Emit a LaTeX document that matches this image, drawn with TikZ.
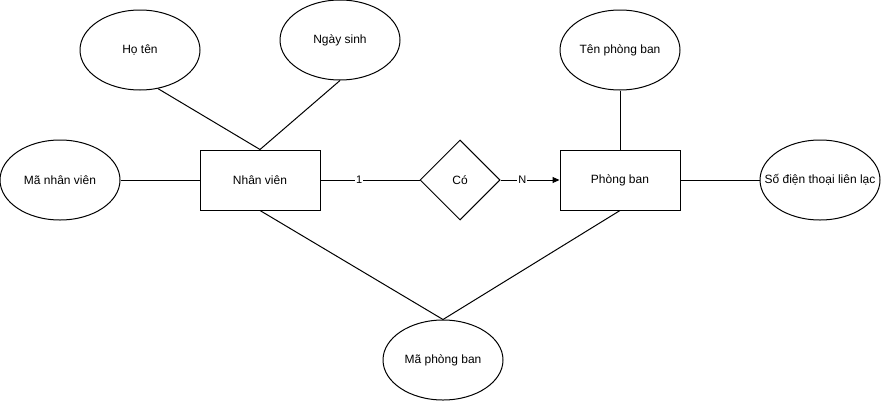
\documentclass[tikz,border=0pt]{standalone}
\usepackage{fontspec}
\setmainfont{Liberation Sans}
\usetikzlibrary{shapes.geometric,arrows.meta}
\begin{document}
\begin{tikzpicture}[x=1pt,y=-1pt,
  every node/.style={font=\fontsize{12}{14}\selectfont, inner sep=0pt},
  attr/.style={draw, ellipse, line width=1pt, minimum width=120pt, minimum height=80pt, fill=white},
  entity/.style={draw, rectangle, line width=1pt, minimum width=120pt, minimum height=60pt, fill=white},
  rel/.style={draw, diamond, aspect=1, line width=1pt, minimum width=80pt, minimum height=80pt, fill=white},
  conn/.style={line width=1pt},
  card/.style={fill=white, font=\fontsize{11}{13}\selectfont, inner sep=1pt}]
\useasboundingbox (0,0) rectangle (882,402);
\node[attr] (hoten) at (140,50) {Họ tên};
\node[attr] (ngaysinh) at (340,40) {Ngày sinh};
\node[attr] (manv) at (60,180) {Mã nhân viên};
\node[entity] (nhanvien) at (260,180) {Nhân viên};
\node[rel] (co) at (460,180) {Có};
\node[entity] (phongban) at (620,180) {Phòng ban};
\node[attr] (tenpb) at (620,50) {Tên phòng ban};
\node[attr] (sdt) at (820,180) {};
\node (sdttext) at (sdt.center) {Số điện thoại liên lạc};
\node[attr] (mapb) at (443,360) {Mã phòng ban};

\draw[conn] (hoten.-65) -- (nhanvien.north);
\draw[conn] (ngaysinh.south) -- (nhanvien.north);
\draw[conn] (manv.east) -- (nhanvien.west);
\draw[conn] (nhanvien.east) -- node[card, pos=0.39] (c1) {1} (co.west);
\draw[conn, -{Triangle[length=7pt,width=6pt]}] (co.east) -- node[card, pos=0.37] (cn) {N} (phongban.west);
\draw[conn] (tenpb.south) -- (phongban.north);
\draw[conn] (phongban.east) -- (sdt.west);
\draw[conn] (nhanvien.south) -- (mapb.north);
\draw[conn] (phongban.south) -- (mapb.north);
\end{tikzpicture}
\end{document}
